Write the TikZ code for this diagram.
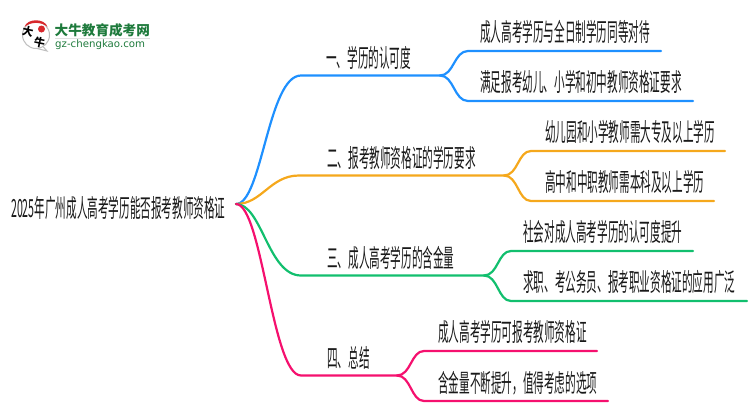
\documentclass[tikz,border=0pt]{standalone}
\usepackage{fontspec}
\newfontfamily\cjk{Noto Sans CJK SC}
\newfontfamily\cjknarrow[FakeStretch=0.424]{Noto Sans CJK SC}
\newfontfamily\logolatin{DejaVu Sans}
\definecolor{mapblue}{HTML}{1E90FF}
\definecolor{maporange}{HTML}{F5A81C}
\definecolor{mapgreen}{HTML}{12BF6E}
\definecolor{mappink}{HTML}{F5106E}
\definecolor{logogreen}{HTML}{1E7A3C}
\definecolor{logored}{HTML}{D8282C}
\tikzset{
  lbl/.style={anchor=west, inner sep=0pt, text=black!90, font=\cjknarrow\fontsize{25}{25}\selectfont},
  branch/.style={line width=2.2pt, line cap=round},
}
\begin{document}
\begin{tikzpicture}[x=1pt, y=-1pt]
\useasboundingbox (0,0) rectangle (750,410);

% Logo
\node[circle, draw=black!25, line width=1pt, fill=white, minimum size=27pt, inner sep=0pt] (bubble) at (36,35) {};
\coordinate (tailtip) at (47,51);
\draw[black!25, line width=1pt] (43,46.5) -- (tailtip) -- (37,48.5);
\fill[logored] (24.5,27) .. controls (27,18) and (45,18) .. (47.5,27) .. controls (42,21.5) and (30,21.5) .. (24.5,27);
\node[circle, fill=logored, minimum size=7pt, inner sep=0pt] (seal) at (41.5,29) {};
\node[inner sep=0pt, rotate=-12, font=\cjk\bfseries\fontsize{11}{11}\selectfont] (da) at (28,31.5) {大};
\node[inner sep=0pt, rotate=-12, font=\cjk\bfseries\fontsize{11}{11}\selectfont] (niu) at (39.5,42.5) {牛};
\node[anchor=west, inner sep=0pt, text=logogreen, font=\cjk\bfseries\fontsize{13.6}{14}\selectfont] (logotitle) at (54.5,30) {大牛教育成考网};
\coordinate (rulel) at (55,38.5);
\coordinate (ruler) at (150,38.5);
\draw[black!12, line width=0.8pt] (rulel) -- (ruler);
\node[anchor=west, inner sep=0pt, text=logogreen, font=\logolatin\fontsize{10.2}{11}\selectfont] (logourl) at (55,45) {gz-chengkao.com};

% Root
\node[lbl] (root) at (11,208) {2025年广州成人高考学历能否报考教师资格证};
\coordinate (hub) at (236,204);

% First branch
\coordinate (bonea) at (301,75.5);
\coordinate (boneb) at (440,75.5);
\coordinate (onea) at (468,51);
\coordinate (oneaend) at (661,51);
\coordinate (oneb) at (468,101);
\coordinate (onebend) at (693,101);
\draw[branch, mapblue] (hub) .. controls (262,204) and (268,75.5) .. (bonea) -- (boneb);
\draw[branch, mapblue] (boneb) .. controls (454,75.5) and (454,51) .. (onea) -- (oneaend);
\draw[branch, mapblue] (boneb) .. controls (454,75.5) and (454,101) .. (oneb) -- (onebend);
\node[lbl] (topicone) at (326,58) {一、学历的认可度};
\node[lbl] (itemonea) at (480,32) {成人高考学历与全日制学历同等对待};
\node[lbl] (itemoneb) at (480,82) {满足报考幼儿、小学和初中教师资格证要求};

% Second branch
\coordinate (btwoa) at (299,175.5);
\coordinate (btwob) at (504,175.5);
\coordinate (twoa) at (531,151);
\coordinate (twoaend) at (725,151);
\coordinate (twob) at (531,201);
\coordinate (twobend) at (714,201);
\draw[branch, maporange] (hub) .. controls (262,204) and (270,175.5) .. (btwoa) -- (btwob);
\draw[branch, maporange] (btwob) .. controls (518,175.5) and (518,151) .. (twoa) -- (twoaend);
\draw[branch, maporange] (btwob) .. controls (518,175.5) and (518,201) .. (twob) -- (twobend);
\node[lbl] (topictwo) at (327,158) {二、报考教师资格证的学历要求};
\node[lbl] (itemtwoa) at (545,132) {幼儿园和小学教师需大专及以上学历};
\node[lbl] (itemtwob) at (545,182) {高中和中职教师需本科及以上学历};

% Third branch
\coordinate (bthreea) at (301,275.5);
\coordinate (bthreeb) at (484,275.5);
\coordinate (threea) at (511,251);
\coordinate (threeaend) at (693,251);
\coordinate (threeb) at (511,301);
\coordinate (threebend) at (747,301);
\draw[branch, mapgreen] (hub) .. controls (262,204) and (268,275.5) .. (bthreea) -- (bthreeb);
\draw[branch, mapgreen] (bthreeb) .. controls (498,275.5) and (498,251) .. (threea) -- (threeaend);
\draw[branch, mapgreen] (bthreeb) .. controls (498,275.5) and (498,301) .. (threeb) -- (threebend);
\node[lbl] (topicthree) at (327,258) {三、成人高考学历的含金量};
\node[lbl] (itemthreea) at (523,232) {社会对成人高考学历的认可度提升};
\node[lbl] (itemthreeb) at (523,282) {求职、考公务员、报考职业资格证的应用广泛};

% Fourth branch
\coordinate (bfoura) at (301,375.5);
\coordinate (bfourb) at (397,375.5);
\coordinate (foura) at (424,351);
\coordinate (fouraend) at (597,351);
\coordinate (fourb) at (424,401);
\coordinate (fourbend) at (608,401);
\draw[branch, mappink] (hub) .. controls (262,204) and (272,375.5) .. (bfoura) -- (bfourb);
\draw[branch, mappink] (bfourb) .. controls (411,375.5) and (411,351) .. (foura) -- (fouraend);
\draw[branch, mappink] (bfourb) .. controls (411,375.5) and (411,401) .. (fourb) -- (fourbend);
\node[lbl] (topicfour) at (327,358) {四、总结};
\node[lbl] (itemfoura) at (438,332) {成人高考学历可报考教师资格证};
\node[lbl] (itemfourb) at (438,383) {含金量不断提升，值得考虑的选项};
\end{tikzpicture}
\end{document}
